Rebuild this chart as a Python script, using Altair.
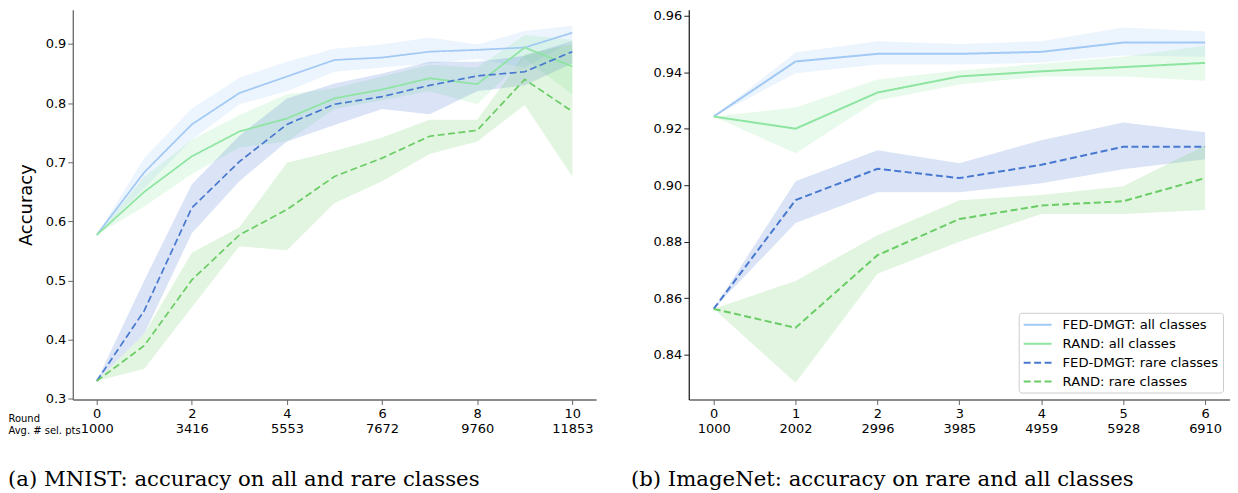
import json
import altair as alt
import pandas as pd

series = ["FED-DMGT: all classes", "RAND: all classes",
          "FED-DMGT: rare classes", "RAND: rare classes"]
colors = ["#a1c9f4", "#8de5a1", "#4878d0", "#6acc64"]
dashes = [[1, 0], [1, 0], [7, 3.5], [7, 3.5]]

# ---------------- MNIST ----------------
mnist_rounds = list(range(11))
mnist_tick_rounds = [0, 2, 4, 6, 8, 10]
mnist_tick_pts = ["1000", "3416", "5553", "7672", "9760", "11853"]

mnist_fed_all = [0.577, 0.683, 0.764, 0.817, 0.845, 0.873, 0.877, 0.887, 0.890, 0.894, 0.919]
mnist_fed_all_lo = [0.577, 0.656, 0.738, 0.798, 0.820, 0.853, 0.860, 0.867, 0.875, 0.860, 0.905]
mnist_fed_all_hi = [0.577, 0.707, 0.791, 0.843, 0.870, 0.892, 0.899, 0.911, 0.899, 0.922, 0.931]

mnist_rand_all = [0.577, 0.650, 0.710, 0.752, 0.774, 0.808, 0.823, 0.842, 0.832, 0.894, 0.862]
mnist_rand_all_lo = [0.577, 0.625, 0.680, 0.725, 0.735, 0.790, 0.805, 0.820, 0.798, 0.875, 0.815]
mnist_rand_all_hi = [0.577, 0.675, 0.738, 0.780, 0.815, 0.825, 0.845, 0.865, 0.860, 0.915, 0.907]

mnist_fed_rare = [0.330, 0.449, 0.623, 0.701, 0.764, 0.798, 0.811, 0.830, 0.846, 0.853, 0.887]
mnist_fed_rare_lo = [0.330, 0.410, 0.580, 0.668, 0.735, 0.763, 0.790, 0.781, 0.820, 0.830, 0.867]
mnist_fed_rare_hi = [0.330, 0.500, 0.663, 0.745, 0.808, 0.833, 0.850, 0.870, 0.870, 0.880, 0.905]

mnist_rand_rare = [0.330, 0.390, 0.501, 0.577, 0.620, 0.676, 0.707, 0.744, 0.754, 0.840, 0.786]
mnist_rand_rare_lo = [0.330, 0.351, 0.455, 0.558, 0.551, 0.631, 0.668, 0.714, 0.735, 0.797, 0.676]
mnist_rand_rare_hi = [0.330, 0.410, 0.547, 0.590, 0.699, 0.719, 0.742, 0.772, 0.772, 0.882, 0.900]

# ---------------- ImageNet ----------------
imnet_rounds = list(range(7))
imnet_tick_rounds = [0, 1, 2, 3, 4, 5, 6]
imnet_tick_pts = ["1000", "2002", "2996", "3985", "4959", "5928", "6910"]

imnet_fed_all = [0.9243, 0.9438, 0.9465, 0.9465, 0.9472, 0.9505, 0.9505]
imnet_fed_all_lo = [0.9243, 0.9396, 0.9427, 0.9427, 0.9434, 0.9459, 0.9455]
imnet_fed_all_hi = [0.9243, 0.9470, 0.9510, 0.9500, 0.9510, 0.9558, 0.9544]

imnet_rand_all = [0.9243, 0.9200, 0.9328, 0.9385, 0.9403, 0.9418, 0.9433]
imnet_rand_all_lo = [0.9243, 0.9113, 0.9300, 0.9356, 0.9385, 0.9385, 0.9370]
imnet_rand_all_hi = [0.9243, 0.9275, 0.9374, 0.9406, 0.9430, 0.9455, 0.9494]

imnet_fed_rare = [0.8562, 0.8947, 0.9058, 0.9025, 0.9072, 0.9136, 0.9136]
imnet_fed_rare_lo = [0.8562, 0.8866, 0.8975, 0.8975, 0.9007, 0.9056, 0.9092]
imnet_fed_rare_hi = [0.8562, 0.9014, 0.9124, 0.9078, 0.9159, 0.9222, 0.9187]

imnet_rand_rare = [0.8562, 0.8495, 0.8752, 0.8880, 0.8928, 0.8943, 0.9025]
imnet_rand_rare_lo = [0.8562, 0.8300, 0.8686, 0.8800, 0.8898, 0.8898, 0.8912]
imnet_rand_rare_hi = [0.8562, 0.8661, 0.8823, 0.8947, 0.8965, 0.8996, 0.9141]


def build_df(rounds, groups):
    rows = []
    for name, (m, lo, hi) in zip(series, groups):
        for r, a, b, c in zip(rounds, m, lo, hi):
            rows.append({"round": r, "series": name, "mean": a, "lo": b, "hi": c})
    return pd.DataFrame(rows)


mnist_df = build_df(mnist_rounds, [
    (mnist_fed_all, mnist_fed_all_lo, mnist_fed_all_hi),
    (mnist_rand_all, mnist_rand_all_lo, mnist_rand_all_hi),
    (mnist_fed_rare, mnist_fed_rare_lo, mnist_fed_rare_hi),
    (mnist_rand_rare, mnist_rand_rare_lo, mnist_rand_rare_hi),
])
imnet_df = build_df(imnet_rounds, [
    (imnet_fed_all, imnet_fed_all_lo, imnet_fed_all_hi),
    (imnet_rand_all, imnet_rand_all_lo, imnet_rand_all_hi),
    (imnet_fed_rare, imnet_fed_rare_lo, imnet_fed_rare_hi),
    (imnet_rand_rare, imnet_rand_rare_lo, imnet_rand_rare_hi),
])

color_scale = alt.Scale(domain=series, range=colors)
dash_scale = alt.Scale(domain=series, range=dashes)

legend_kw = dict(orient="bottom-right", offset=7, title=None, fillColor="white",
                 strokeColor="#cccccc", cornerRadius=3, padding=4,
                 labelFontSize=13.2, labelFont="DejaVu Sans", labelColor="black",
                 symbolType="M-1,0H3", symbolSize=196, symbolStrokeWidth=2,
                 labelOffset=24, rowPadding=4, labelLimit=300)


def panel(df, xdom, ydom, xticks, pts, idx_div, yticks, yfmt, ytitle, xtitle,
          caption, cap_dx, width, show_legend, ydomain_color, lw):
    label_expr = "[datum.label, %s[datum.value/%d]]" % (json.dumps(pts), idx_div)
    x_axis = alt.Axis(values=xticks, labelExpr=label_expr, labelLineHeight=15,
                      labelPadding=3, domainColor="#666", tickColor="#666",
                      title=xtitle if xtitle else None,
                      titleX=-65, titleY=14, titleAlign="left", titleBaseline="top",
                      titleAngle=0, titleFontSize=10, titleFontWeight="normal",
                      titleLineHeight=12, titleFont="DejaVu Sans")
    x = alt.X("round:Q", scale=alt.Scale(domain=xdom, nice=False, zero=False), axis=x_axis)
    y_axis = alt.Axis(values=yticks, format=yfmt, title=ytitle if ytitle else None,
                      titleFontSize=18, titleFontWeight="normal", titlePadding=10,
                      titleFont="DejaVu Sans", domainColor=ydomain_color,
                      tickColor=ydomain_color)
    yscale = alt.Scale(domain=ydom, nice=False, zero=False)
    band = alt.Chart(df).mark_area(fillOpacity=0.2).encode(
        x=x,
        y=alt.Y("lo:Q", scale=yscale, axis=y_axis),
        y2="hi:Q",
        fill=alt.Fill("series:N", scale=color_scale, legend=None),
        detail="series:N",
    )
    if show_legend:
        cleg = alt.Legend(**legend_kw)
        dleg = alt.Legend(**legend_kw)
    else:
        cleg = None
        dleg = None
    line = alt.Chart(df).mark_line(strokeWidth=lw).encode(
        x=x,
        y=alt.Y("mean:Q", scale=yscale, axis=y_axis),
        color=alt.Color("series:N", scale=color_scale, legend=cleg, sort=series),
        strokeDash=alt.StrokeDash("series:N", scale=dash_scale, legend=dleg, sort=series),
    )
    return alt.layer(band, line).properties(
        width=width, height=391,
        title=alt.TitleParams(caption, orient="bottom", anchor="start", frame="group",
                              dx=cap_dx, offset=34, font="DejaVu Serif",
                              fontSize=21.3, fontWeight="normal", color="black"),
    )


left = panel(mnist_df, [-0.503, 10.50], [0.2988, 0.9578], mnist_tick_rounds,
             mnist_tick_pts, 2, [0.3, 0.4, 0.5, 0.6, 0.7, 0.8, 0.9], ".1f",
             "Accuracy", ["Round", "Avg. # sel. pts"],
             "(a) MNIST: accuracy on all and rare classes", -65, 525, False, "#666", 1.7)
right = panel(imnet_df, [-0.304, 6.304], [0.8241, 0.9621], imnet_tick_rounds,
              imnet_tick_pts, 1, [0.84, 0.86, 0.88, 0.90, 0.92, 0.94, 0.96], ".2f",
              None, None,
              "(b) ImageNet: accuracy on rare and all classes", -58, 543, True, "#222", 2)

chart = alt.hconcat(left, right, spacing=93, bounds="flush").resolve_scale(
    x="independent", y="independent"
).resolve_legend(color="independent", strokeDash="independent").properties(
    padding=0
).configure_view(stroke=None).configure_axis(
    grid=False, labelFont="DejaVu Sans", labelFontSize=13, labelColor="black",
    tickSize=5, domainWidth=1.3, titleColor="black"
)

chart.save("out.html", embed_options={"renderer": "svg", "actions": False})
